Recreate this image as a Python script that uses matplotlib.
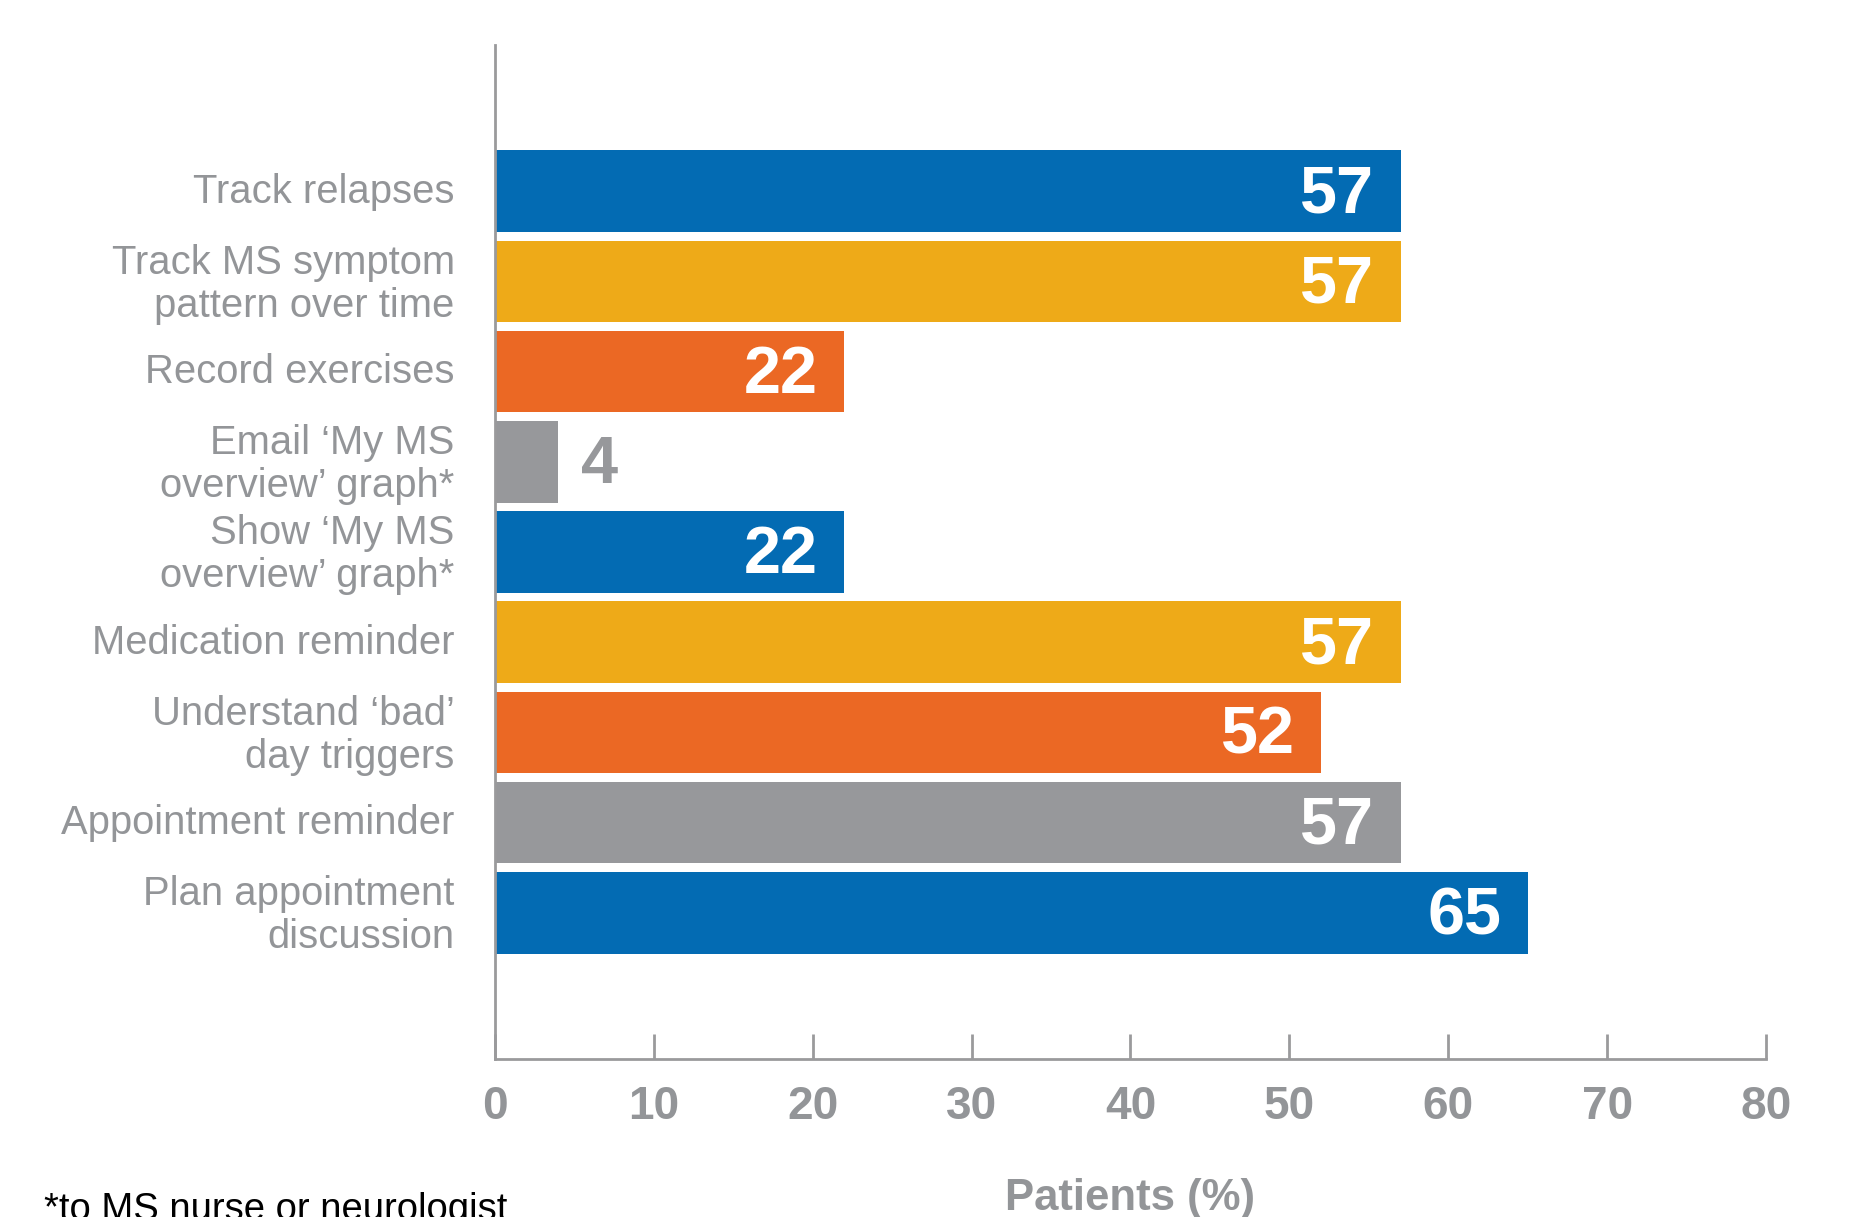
import matplotlib.pyplot as plt

# survey answers, top to bottom
features = ['Track relapses', 'Track MS symptom\npattern over time', 'Record exercises',
            'Email \u2018My MS\noverview\u2019 graph*', 'Show \u2018My MS\noverview\u2019 graph*',
            'Medication reminder', 'Understand \u2018bad\u2019\nday triggers',
            'Appointment reminder', 'Plan appointment\ndiscussion']
patients_pct = [57, 57, 22, 4, 22, 57, 52, 57, 65]
x_ticks = [0, 10, 20, 30, 40, 50, 60, 70, 80]

BLUE = '#036bb3'
YELLOW = '#eeaa18'
ORANGE = '#eb6824'
GREY = '#97989b'
TEXT_GREY = '#939598'
bar_colors = [BLUE, YELLOW, ORANGE, GREY, BLUE, YELLOW, ORANGE, GREY, BLUE]

plt.rcParams['font.family'] = ['Liberation Sans', 'DejaVu Sans']

fig = plt.figure(figsize=(18.55, 12.17), dpi=100)
ax = fig.add_axes([0.2668, 0.1298, 0.6852, 0.8332])

pos = list(range(len(features)))
ax.barh(pos, patients_pct, height=0.905, color=bar_colors)

for y, v, c in zip(pos, patients_pct, bar_colors):
    if v < 10:
        ax.annotate(str(v), (v, y), xytext=(16, -3), textcoords='offset points',
                    ha='left', va='center', color=c, fontsize=48, fontweight='bold')
    else:
        ax.annotate(str(v), (v, y), xytext=(-19, -3), textcoords='offset points',
                    ha='right', va='center', color='white', fontsize=48, fontweight='bold')

ax.set_ylim(9.62, -1.62)
ax.set_xlim(0, 80)
# labels sit a touch above the bar centres (ticks are hidden anyway)
ax.set_yticks([p - 0.04 for p in pos])
ax.set_yticklabels(features, fontsize=28.8, color=TEXT_GREY, linespacing=1.16)
ax.set_xticks(x_ticks)
ax.set_xticklabels([str(t) for t in x_ticks], fontsize=33, fontweight='bold', color=TEXT_GREY)

ax.tick_params(axis='y', length=0, pad=29)
ax.tick_params(axis='x', direction='in', length=18, width=2, color='#9a9a9c', pad=19)

for side in ['top', 'right']:
    ax.spines[side].set_visible(False)
for side in ['left', 'bottom']:
    ax.spines[side].set_color('#9a9a9c')
    ax.spines[side].set_linewidth(2)

ax.set_xlabel('Patients (%)', fontsize=31.5, fontweight='bold', color=TEXT_GREY)
ax.xaxis.set_label_coords(0.5, -0.149)
ax.xaxis.label.set_va('baseline')

fig.text(44 / 1855, 1 - 1192 / 1217, '*to MS nurse or neurologist', fontsize=27.5,
         color='black', ha='left', va='top')

fig.savefig('out.png', dpi=100)
